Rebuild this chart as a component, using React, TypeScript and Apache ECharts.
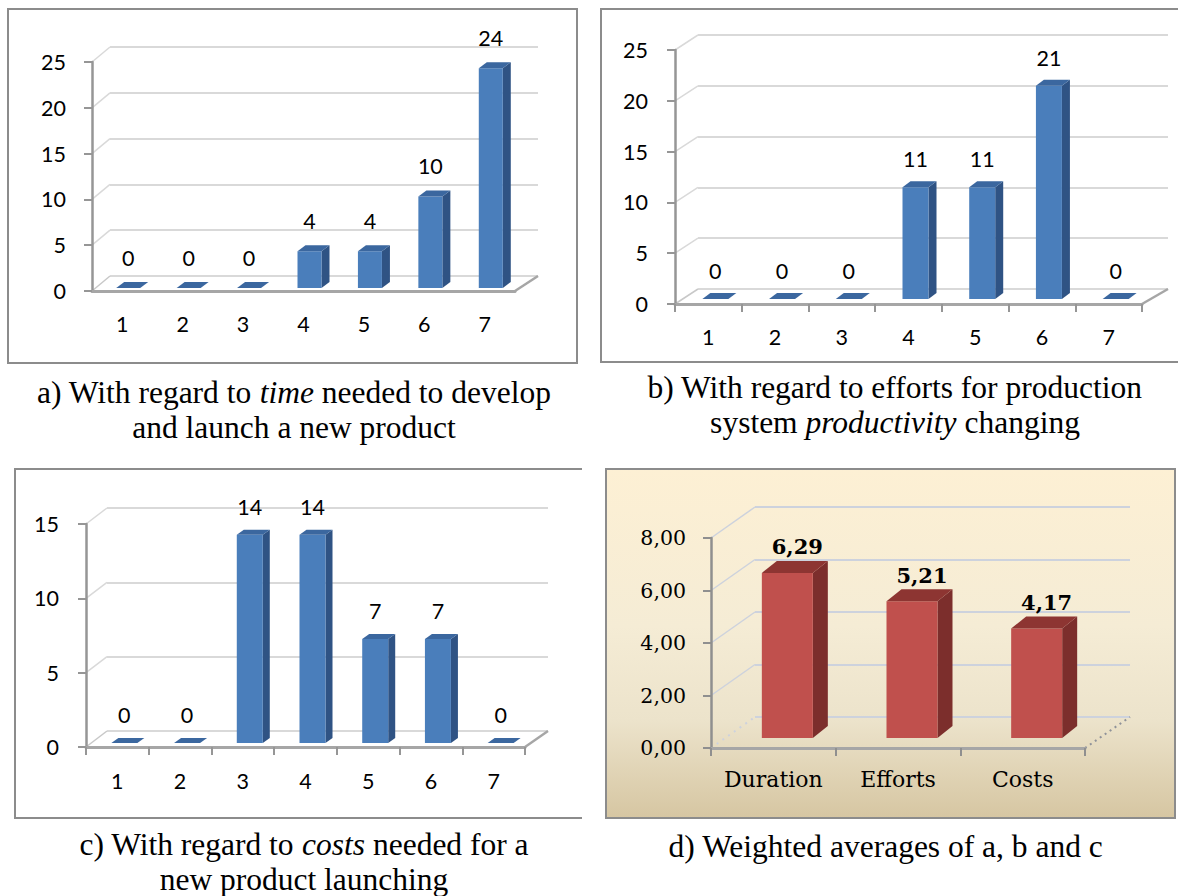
import React, { useEffect, useRef } from 'react';
import * as echarts from 'echarts';

// Survey answers on a 1..7 scale (number of respondents per grade)
const ratingScale = ['1', '2', '3', '4', '5', '6', '7'];
const timeCounts = [0, 0, 0, 4, 4, 10, 24];
const productivityCounts = [0, 0, 0, 11, 11, 21, 0];
const costCounts = [0, 0, 14, 14, 7, 7, 0];

// Weighted averages of the three questions
const averageCategories = ['Duration', 'Efforts', 'Costs'];
const weightedAverages = [6.29, 5.21, 4.17];

// Value axis ranges
const countAxisMax = 25;
const countAxisStep = 5;
const costAxisMax = 15;
const costAxisStep = 5;
const averageAxisMax = 8;
const averageAxisStep = 2;

const SANS = 'Lato';
const SERIF_D = 'DejaVu Serif';
const TIMES = 'Liberation Serif';
const CAPTION_SIZE = 31.5;

const BLUE = { front: '#4a7ebb', side: '#2f5384', top: '#3b679f' };
const RED = { front: '#c0504d', side: '#7c2e2c', top: '#8d3532' };

const commaDecimals = (v: number) => v.toFixed(2).replace('.', ',');

type Segment = { text: string; italic?: boolean };

// caption lines: centre x, middle y, text runs
const captionLines: { x: number; y: number; parts: Segment[] }[] = [
  { x: 294, y: 393, parts: [{ text: 'a) With regard to ' }, { text: 'time', italic: true }, { text: ' needed to develop' }] },
  { x: 294, y: 428, parts: [{ text: 'and launch a new product' }] },
  { x: 895, y: 388, parts: [{ text: 'b) With regard to efforts for production' }] },
  { x: 895, y: 423, parts: [{ text: 'system ' }, { text: 'productivity', italic: true }, { text: ' changing' }] },
  { x: 304, y: 845, parts: [{ text: 'c) With regard to ' }, { text: 'costs', italic: true }, { text: ' needed for a' }] },
  { x: 304, y: 880, parts: [{ text: 'new product launching' }] },
  { x: 886, y: 847, parts: [{ text: 'd) Weighted averages of a, b and c' }] },
];

type PanelCfg = {
  categories: string[];
  values: number[];
  max: number;
  interval: number;
  x0: number;
  x1: number;
  yTop: number;
  yBase: number;
  depth: [number, number];
  backStretch: number;
  bar: { ox: number; oy: number; w: number; sx: number; sy: number };
  colors: { front: string; side: string; top: string };
  xTicks: boolean;
  font: string;
  fontSize: number;
  xFontSize: number;
  valueFontWeight: string;
  valueFontSize: number;
  labelDx: number;
  labelGap: number;
  yLabelMargin: number;
  xLabelMargin: number;
  gridColor: string;
  axisColor: string;
  floorDotted: boolean;
  yFormat: (v: number) => string;
  valueFormat: (v: number) => string;
};

const panels: PanelCfg[] = [
  {
    categories: ratingScale, values: timeCounts, max: countAxisMax, interval: countAxisStep,
    x0: 92, x1: 515, yTop: 62, yBase: 291, depth: [18, -15], backStretch: 5,
    bar: { ox: 6, oy: -3, w: 24, sx: 8, sy: -6 }, colors: BLUE, xTicks: false,
    font: SANS, fontSize: 21.5, xFontSize: 21.5, valueFontWeight: 'normal', valueFontSize: 21.5,
    labelDx: 0, labelGap: 30, yLabelMargin: 26, xLabelMargin: 22,
    gridColor: '#d9d9d9', axisColor: '#969696', floorDotted: false,
    yFormat: (v) => String(v), valueFormat: (v) => String(v),
  },
  {
    categories: ratingScale, values: productivityCounts, max: countAxisMax, interval: countAxisStep,
    x0: 675, x1: 1142, yTop: 50, yBase: 304, depth: [23, -15], backStretch: 3,
    bar: { ox: 7, oy: -5, w: 26, sx: 8, sy: -6 }, colors: BLUE, xTicks: true,
    font: SANS, fontSize: 21.5, xFontSize: 21.5, valueFontWeight: 'normal', valueFontSize: 21.5,
    labelDx: 0, labelGap: 28, yLabelMargin: 27, xLabelMargin: 22,
    gridColor: '#d9d9d9', axisColor: '#969696', floorDotted: false,
    yFormat: (v) => String(v), valueFormat: (v) => String(v),
  },
  {
    categories: ratingScale, values: costCounts, max: costAxisMax, interval: costAxisStep,
    x0: 86, x1: 525, yTop: 524, yBase: 747, depth: [21, -16], backStretch: 2,
    bar: { ox: 7, oy: -4, w: 26, sx: 7, sy: -5 }, colors: BLUE, xTicks: true,
    font: SANS, fontSize: 21.5, xFontSize: 21.5, valueFontWeight: 'normal', valueFontSize: 21.5,
    labelDx: 0, labelGap: 28, yLabelMargin: 27, xLabelMargin: 23,
    gridColor: '#d9d9d9', axisColor: '#969696', floorDotted: false,
    yFormat: (v) => String(v), valueFormat: (v) => String(v),
  },
  {
    categories: averageCategories, values: weightedAverages, max: averageAxisMax, interval: averageAxisStep,
    x0: 711, x1: 1085, yTop: 538, yBase: 748, depth: [44, -31], backStretch: 1,
    bar: { ox: 14, oy: -10, w: 51, sx: 15, sy: -12 }, colors: RED, xTicks: true,
    font: SERIF_D, fontSize: 20.5, xFontSize: 22, valueFontWeight: 'bold', valueFontSize: 21,
    labelDx: 10, labelGap: 26, yLabelMargin: 25, xLabelMargin: 20,
    gridColor: '#cdd2dd', axisColor: '#8f8f8f', floorDotted: true,
    yFormat: commaDecimals, valueFormat: commaDecimals,
  },
];

// caption runs laid out left to right, each measured in its own face
function buildCaptions(): any[] {
  const canvas = document.createElement('canvas');
  const ctx = canvas.getContext('2d');
  const out: any[] = [];
  captionLines.forEach((line) => {
    const widths = line.parts.map((seg) => {
      if (!ctx) return seg.text.length * CAPTION_SIZE * 0.45;
      ctx.font = `${seg.italic ? 'italic ' : ''}${CAPTION_SIZE}px "${TIMES}"`;
      return ctx.measureText(seg.text).width;
    });
    const total = widths.reduce((a, b) => a + b, 0);
    let x = line.x - total / 2;
    const top = line.y - CAPTION_SIZE * 0.53;
    line.parts.forEach((seg, k) => {
      const style: any = { text: seg.text, fontFamily: TIMES, fontSize: CAPTION_SIZE, fill: '#000' };
      if (seg.italic) style.fontStyle = 'italic';
      out.push({ type: 'text', x, y: top, style });
      x += widths[k];
    });
  });
  return out;
}

function buildOption() {
  const grid: any[] = [];
  const xAxis: any[] = [];
  const yAxis: any[] = [];
  const series: any[] = [];

  panels.forEach((p, i) => {
    const frontIdx = i * 2;
    const backIdx = i * 2 + 1;
    const [dx, dy] = p.depth;
    const w = p.x1 - p.x0;
    const h = p.yBase - p.yTop;

    // front plane: axes, labels and bars
    grid.push({ left: p.x0, top: p.yTop, width: w, height: h, outerBoundsMode: 'none', containLabel: false });
    // back wall: horizontal gridlines
    grid.push({ left: p.x0 + dx, top: p.yTop + dy, width: w + p.backStretch, height: h, outerBoundsMode: 'none', containLabel: false });

    xAxis.push({
      gridIndex: frontIdx,
      type: 'category',
      data: p.categories,
      boundaryGap: true,
      axisLine: { show: true, lineStyle: { color: '#a6a6a6', width: 3 } },
      axisTick: { show: p.xTicks, length: 8, lineStyle: { color: p.axisColor, width: 2 } },
      axisLabel: { color: '#000', fontFamily: p.font, fontSize: p.xFontSize, margin: p.xLabelMargin, interval: 0 },
      splitLine: { show: false },
      z: 4,
    });
    xAxis.push({ gridIndex: backIdx, type: 'value', min: 0, max: 1, show: false });

    yAxis.push({
      gridIndex: frontIdx,
      type: 'value',
      min: 0,
      max: p.max,
      interval: p.interval,
      axisLine: { show: true, lineStyle: { color: p.axisColor, width: 2.5 } },
      axisTick: { show: true, length: 8, lineStyle: { color: p.axisColor, width: 2 } },
      axisLabel: { color: '#000', fontFamily: p.font, fontSize: p.fontSize, margin: p.yLabelMargin, formatter: p.yFormat },
      splitLine: { show: false },
      z: 4,
    });
    yAxis.push({
      gridIndex: backIdx,
      type: 'value',
      min: 0,
      max: p.max,
      interval: p.interval,
      axisLine: { show: false },
      axisTick: { show: false },
      axisLabel: { show: false },
      splitLine: { show: true, lineStyle: { color: p.gridColor, width: 2 } },
    });

    // side-wall connectors from front ticks to back gridlines
    const tickValues: number[][] = [];
    for (let t = 0; t <= p.max; t += p.interval) tickValues.push([0, t]);
    series.push({
      type: 'custom',
      xAxisIndex: frontIdx,
      yAxisIndex: frontIdx,
      data: tickValues,
      encode: { x: 0, y: 1 },
      silent: true,
      z: 1,
      renderItem: (params: any, api: any) => {
        const t = api.value(1);
        const y = api.coord([0, t])[1];
        const x = params.coordSys.x;
        const dotted = p.floorDotted && t === 0;
        return {
          type: 'line',
          shape: { x1: x, y1: y, x2: x + dx, y2: y + dy },
          style: { stroke: t === 0 && !p.floorDotted ? '#c8c8c8' : p.gridColor, lineWidth: dotted ? 2 : 1.5, lineDash: dotted ? [2, 5] : null },
        };
      },
    });

    // right edge of the floor
    series.push({
      type: 'custom',
      xAxisIndex: frontIdx,
      yAxisIndex: frontIdx,
      data: [[0, 0]],
      encode: { x: 0, y: 1 },
      silent: true,
      z: 1,
      renderItem: (params: any, api: any) => {
        const y = api.coord([0, 0])[1];
        const x = params.coordSys.x + params.coordSys.width;
        return {
          type: 'line',
          shape: { x1: x, y1: y, x2: x + dx + p.backStretch, y2: y + dy },
          style: p.floorDotted
            ? { stroke: '#8f9299', lineWidth: 2, lineDash: [2, 4] }
            : { stroke: '#a6a6a6', lineWidth: 2.5 },
        };
      },
    });

    // 3D columns
    const { ox, oy, sx, sy } = p.bar;
    const bw = p.bar.w;
    series.push({
      type: 'custom',
      xAxisIndex: frontIdx,
      yAxisIndex: frontIdx,
      data: p.values.map((v, k) => [k, v]),
      encode: { x: 0, y: 1 },
      z: 3,
      renderItem: (_params: any, api: any) => {
        const k = api.value(0);
        const v = api.value(1);
        const base = api.coord([k, 0]);
        const tip = api.coord([k, v]);
        const xl = base[0] + ox - bw / 2;
        const xr = xl + bw;
        const yb = base[1] + oy;
        const yt = tip[1] + oy;
        return {
          type: 'group',
          children: [
            {
              type: 'polygon',
              shape: { points: [[xr, yt], [xr + sx, yt + sy], [xr + sx, yb + sy], [xr, yb]] },
              style: { fill: p.colors.side },
            },
            {
              type: 'rect',
              shape: { x: xl, y: yt, width: bw, height: yb - yt },
              style: { fill: p.colors.front },
            },
            {
              type: 'polygon',
              shape: { points: [[xl, yt], [xl + sx, yt + sy], [xr + sx, yt + sy], [xr, yt]] },
              style: { fill: p.colors.top },
            },
            {
              type: 'text',
              x: (xl + xr) / 2 + p.labelDx,
              y: yt - p.labelGap,
              style: {
                text: p.valueFormat(v),
                fill: '#000',
                fontFamily: p.font,
                fontSize: p.valueFontSize,
                fontWeight: p.valueFontWeight,
                textAlign: 'center',
                textVerticalAlign: 'middle',
              },
            },
          ],
        };
      },
    });
  });

  const frameStyle = { fill: 'none', stroke: '#8c8c8c', lineWidth: 2 };

  const graphic = [
    { type: 'rect', z: -10, shape: { x: 8, y: 9, width: 569, height: 354 }, style: { ...frameStyle, fill: '#fff' } },
    { type: 'polyline', z: -10, shape: { points: [[1190, 9], [601, 9], [601, 362], [1190, 362]] }, style: frameStyle },
    { type: 'polyline', z: -10, shape: { points: [[582, 469], [15, 469], [15, 818], [582, 818]] }, style: frameStyle },
    {
      type: 'rect',
      z: -10,
      shape: { x: 606, y: 469, width: 569, height: 349 },
      style: {
        stroke: '#8c8c8c',
        lineWidth: 2,
        fill: new echarts.graphic.LinearGradient(0, 0, 0, 1, [
          { offset: 0, color: '#fdf0d4' },
          { offset: 0.45, color: '#f5ecd5' },
          { offset: 0.72, color: '#ece3cb' },
          { offset: 1, color: '#d6c6a2' },
        ]),
      },
    },
    ...buildCaptions(),
  ];

  return {
    animation: false,
    backgroundColor: '#fff',
    grid,
    xAxis,
    yAxis,
    series,
    graphic,
  };
}

export default function App() {
  const ref = useRef<HTMLDivElement>(null);
  useEffect(() => {
    if (!ref.current) return;
    const chart = echarts.init(ref.current, undefined, { renderer: 'svg' });
    chart.setOption(buildOption() as any);
    return () => chart.dispose();
  }, []);
  return (
    <div
      ref={ref}
      style={{ position: 'absolute', left: 0, top: 0, width: 1178, height: 896 }}
    />
  );
}
